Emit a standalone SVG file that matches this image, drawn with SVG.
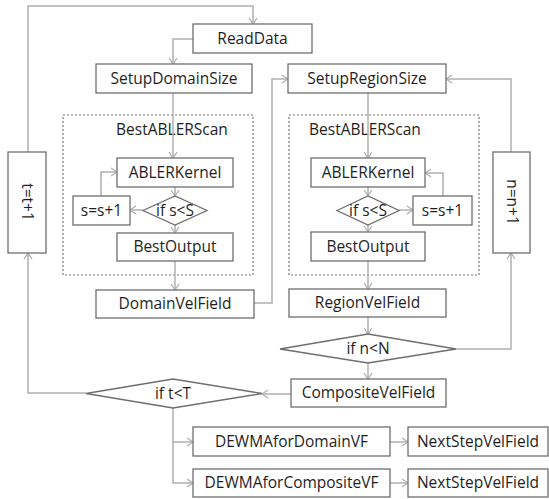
<svg xmlns="http://www.w3.org/2000/svg" width="549" height="499" viewBox="0 0 549 499">
  <style>
    .box { fill: #ffffff; stroke: #6e6e6e; stroke-width: 1.3; }
    .scan { fill: none; stroke: #777777; stroke-width: 1.2; stroke-dasharray: 2 2; }
    .link { fill: none; stroke: #b0b0b0; stroke-width: 1.5; }
    .lbl { font-family: "Open Sans", "Noto Sans", sans-serif; font-size: 15.5px; fill: #1e1e1e; text-anchor: middle; }
  </style>
  <defs>
    <marker id="arrow" markerWidth="8" markerHeight="10" refX="7" refY="5" orient="auto" markerUnits="userSpaceOnUse">
      <path d="M1,1 L7,5 L1,9" fill="none" stroke="#b0b0b0" stroke-width="1.3"/>
    </marker>
  </defs>

  <!-- scan containers -->
  <g id="scanDomain">
    <rect class="scan" x="63" y="115" width="190" height="160"/>
    <text class="lbl" x="172" y="135">BestABLERScan</text>
  </g>
  <g id="scanRegion">
    <rect class="scan" x="289" y="115" width="190" height="160"/>
    <text class="lbl" x="365" y="135">BestABLERScan</text>
  </g>

  <!-- connectors -->
  <g id="connectors">
    <path class="link" d="M28,152 L28,6 L253,6 L253,24" marker-end="url(#arrow)"/>
    <path class="link" d="M193,39 L173,39 L173,64" marker-end="url(#arrow)"/>
    <path class="link" d="M173,93 L173,158" marker-end="url(#arrow)"/>
    <path class="link" d="M175,187 L175,196" marker-end="url(#arrow)"/>
    <path class="link" d="M143,210 L130,210" marker-end="url(#arrow)"/>
    <path class="link" d="M101,196 L101,172 L117,172" marker-end="url(#arrow)"/>
    <path class="link" d="M175,225 L175,233" marker-end="url(#arrow)"/>
    <path class="link" d="M175,261 L175,290" marker-end="url(#arrow)"/>
    <path class="link" d="M254,303 L272,303 L272,79 L288,79" marker-end="url(#arrow)"/>
    <path class="link" d="M368,93 L368,158" marker-end="url(#arrow)"/>
    <path class="link" d="M368,187 L368,196" marker-end="url(#arrow)"/>
    <path class="link" d="M399,210 L413,210" marker-end="url(#arrow)"/>
    <path class="link" d="M443,196 L443,173 L425,173" marker-end="url(#arrow)"/>
    <path class="link" d="M368,225 L368,232" marker-end="url(#arrow)"/>
    <path class="link" d="M368,261 L368,289" marker-end="url(#arrow)"/>
    <path class="link" d="M368,317 L368,334" marker-end="url(#arrow)"/>
    <path class="link" d="M456,349 L511,349 L511,253" marker-end="url(#arrow)"/>
    <path class="link" d="M511,152 L511,79 L446,79" marker-end="url(#arrow)"/>
    <path class="link" d="M368,363 L368,379" marker-end="url(#arrow)"/>
    <path class="link" d="M291,394 L262,394" marker-end="url(#arrow)"/>
    <path class="link" d="M86,393 L28,393 L28,253" marker-end="url(#arrow)"/>
    <path class="link" d="M173,408 L173,483 L193,483" marker-end="url(#arrow)"/>
    <path class="link" d="M173,442 L193,442" marker-end="url(#arrow)"/>
    <path class="link" d="M390,442 L408,442" marker-end="url(#arrow)"/>
    <path class="link" d="M390,483 L408,483" marker-end="url(#arrow)"/>
  </g>

  <!-- nodes -->
  <g id="readData">
    <rect class="box" x="193" y="24" width="119" height="29"/>
    <text class="lbl" x="252.5" y="44">ReadData</text>
  </g>
  <g id="setupDomainSize">
    <rect class="box" x="96" y="64" width="156" height="29"/>
    <text class="lbl" x="174" y="84">SetupDomainSize</text>
  </g>
  <g id="setupRegionSize">
    <rect class="box" x="288" y="64" width="158" height="29"/>
    <text class="lbl" x="367" y="84">SetupRegionSize</text>
  </g>
  <g id="tIncrement">
    <rect class="box" x="8" y="152" width="38" height="101"/>
    <text class="lbl" transform="translate(27,202) rotate(90)" y="5">t=t+1</text>
  </g>
  <g id="nIncrement">
    <rect class="box" x="493" y="152" width="37" height="101"/>
    <text class="lbl" transform="translate(511.5,202) rotate(90)" y="5">n=n+1</text>
  </g>

  <g id="kernelDomain">
    <rect class="box" x="117" y="158" width="116" height="29"/>
    <text class="lbl" x="175" y="178">ABLERKernel</text>
  </g>
  <g id="condSDomain">
    <polygon class="box" points="143,210.5 175,196 207,210.5 175,225"/>
    <text class="lbl" x="175" y="216">if s&lt;S</text>
  </g>
  <g id="sIncDomain">
    <rect class="box" x="73" y="196" width="57" height="29"/>
    <text class="lbl" x="101.5" y="216">s=s+1</text>
  </g>
  <g id="bestOutputDomain">
    <rect class="box" x="117" y="233" width="116" height="28"/>
    <text class="lbl" x="175" y="252">BestOutput</text>
  </g>

  <g id="kernelRegion">
    <rect class="box" x="311" y="158" width="114" height="29"/>
    <text class="lbl" x="368" y="178">ABLERKernel</text>
  </g>
  <g id="condSRegion">
    <polygon class="box" points="337,210.5 368,196 399,210.5 368,225"/>
    <text class="lbl" x="368" y="216">if s&lt;S</text>
  </g>
  <g id="sIncRegion">
    <rect class="box" x="413" y="196" width="59" height="29"/>
    <text class="lbl" x="442.5" y="216">s=s+1</text>
  </g>
  <g id="bestOutputRegion">
    <rect class="box" x="311" y="232" width="114" height="29"/>
    <text class="lbl" x="368" y="252">BestOutput</text>
  </g>

  <g id="domainVelField">
    <rect class="box" x="96" y="290" width="158" height="28"/>
    <text class="lbl" x="175" y="309">DomainVelField</text>
  </g>
  <g id="regionVelField">
    <rect class="box" x="289" y="289" width="157" height="28"/>
    <text class="lbl" x="367.5" y="308">RegionVelField</text>
  </g>
  <g id="condN">
    <polygon class="box" points="280,349 368,334 456,349 368,363"/>
    <text class="lbl" x="368" y="354">if n&lt;N</text>
  </g>
  <g id="compositeVelField">
    <rect class="box" x="291" y="379" width="155" height="28"/>
    <text class="lbl" x="368.5" y="398">CompositeVelField</text>
  </g>
  <g id="condT">
    <polygon class="box" points="86,393.5 173,379 262,393.5 173,408"/>
    <text class="lbl" x="173" y="399">if t&lt;T</text>
  </g>
  <g id="dewmaDomain">
    <rect class="box" x="193" y="427" width="197" height="29"/>
    <text class="lbl" x="291.5" y="447">DEWMAforDomainVF</text>
  </g>
  <g id="dewmaComposite">
    <rect class="box" x="193" y="469" width="197" height="28"/>
    <text class="lbl" x="291.5" y="488">DEWMAforCompositeVF</text>
  </g>
  <g id="nextStepDomain">
    <rect class="box" x="408" y="427" width="140" height="29"/>
    <text class="lbl" x="478" y="447">NextStepVelField</text>
  </g>
  <g id="nextStepComposite">
    <rect class="box" x="408" y="469" width="140" height="28"/>
    <text class="lbl" x="478" y="488">NextStepVelField</text>
  </g>
</svg>
